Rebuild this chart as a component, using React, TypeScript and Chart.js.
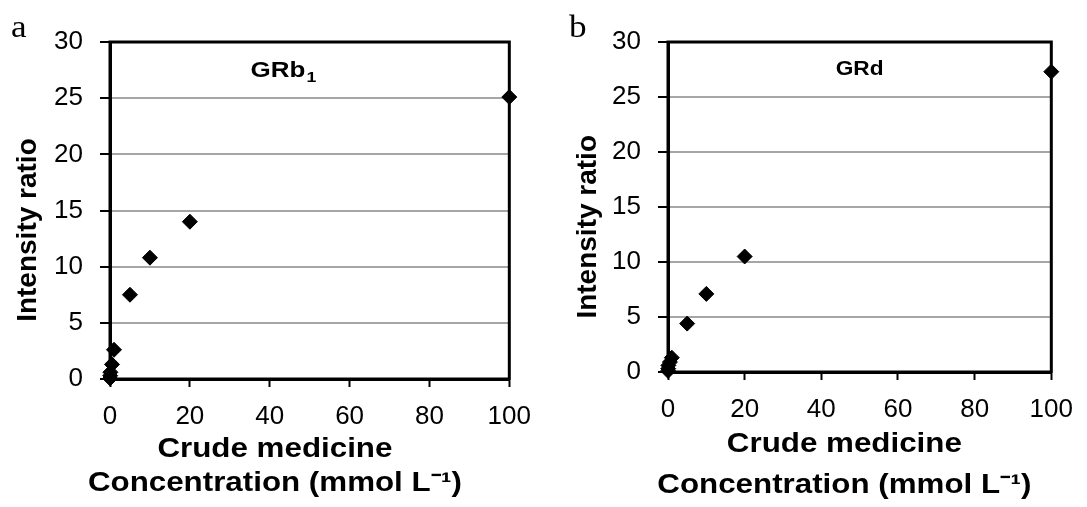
import React, { useEffect, useRef } from 'react';
import { Chart, registerables } from 'chart.js';

Chart.register(...registerables);

// ---- data ----
const yTickStep = 5;
const yMin = 0;
const yMax = 30;
const xTickStep = 20;
const xMin = 0;
const xMax = 100;

const concA = [0.01, 0.05, 0.1, 0.5, 1, 5, 10, 20, 100];
const ratioA = [0.05, 0.3, 0.6, 1.3, 2.6, 7.5, 10.8, 14.0, 25.1];

const concB = [0.01, 0.05, 0.1, 0.5, 1, 5, 10, 20, 100];
const ratioB = [0.1, 0.3, 0.6, 0.9, 1.3, 4.4, 7.1, 10.5, 27.3];

const yTitle = 'Intensity ratio';
const xTitle = ['Crude medicine', 'Concentration (mmol L⁻¹)'];
const titleA = { main: 'GRb', sub: '1' };
const titleB = { main: 'GRd', sub: '' };

const FONT = "'Liberation Sans', Arial, sans-serif";

type TextLayout = {
  xTitleFx: number; // horizontal centre of x title as fraction of plot width
  xTitleBaselines: number[];
  yTitleX: number;
  yTitleFy: number;
  titleFx: number;
  titleBaseline: number;
  titleSize: number;
  titleSx: number;
};

type PanelProps = {
  left: number;
  width: number;
  height: number;
  xs: number[];
  ys: number[];
  axisWidth: number;
  xAxisHeight: number;
  padTop: number;
  padRight: number;
  title: { main: string; sub: string };
  t: TextLayout;
};

function Panel(props: PanelProps) {
  const ref = useRef<HTMLCanvasElement | null>(null);
  useEffect(() => {
    const canvas = ref.current;
    if (!canvas) return;
    const t = props.t;

    const framePlugin = {
      id: 'frame',
      beforeDatasetsDraw(chart: any) {
        const { ctx, chartArea } = chart;
        ctx.save();
        ctx.strokeStyle = '#000';
        ctx.lineWidth = 3;
        ctx.strokeRect(chartArea.left, chartArea.top, chartArea.right - chartArea.left, chartArea.bottom - chartArea.top);
        ctx.restore();
      },
      afterDraw(chart: any) {
        const { ctx, chartArea } = chart;
        const pw = chartArea.right - chartArea.left;
        const ph = chartArea.bottom - chartArea.top;
        ctx.save();
        ctx.fillStyle = '#000';

        // x-axis title (two lines, slightly widened like the reference)
        ctx.font = `bold 27px ${FONT}`;
        ctx.textAlign = 'center';
        ctx.textBaseline = 'alphabetic';
        const cx = chartArea.left + t.xTitleFx * pw;
        xTitle.forEach((line, i) => {
          ctx.save();
          ctx.translate(cx, t.xTitleBaselines[i]);
          ctx.scale(1.16, 1);
          ctx.fillText(line, 0, 0);
          ctx.restore();
        });

        // y-axis title
        ctx.save();
        ctx.font = `bold 28px ${FONT}`;
        ctx.textAlign = 'center';
        ctx.textBaseline = 'middle';
        ctx.translate(t.yTitleX, chartArea.top + t.yTitleFy * ph);
        ctx.rotate(-Math.PI / 2);
        ctx.fillText(yTitle, 0, 0);
        ctx.restore();

        // panel title
        ctx.textAlign = 'left';
        ctx.textBaseline = 'alphabetic';
        const sx = t.titleSx;
        ctx.font = `bold ${t.titleSize}px ${FONT}`;
        const wMain = ctx.measureText(props.title.main).width * sx;
        ctx.font = `bold 15px ${FONT}`;
        const wSub = props.title.sub ? ctx.measureText(props.title.sub).width * sx : 0;
        const tcx = chartArea.left + t.titleFx * pw;
        const x0 = tcx - (wMain + wSub) / 2;
        ctx.save();
        ctx.translate(x0, t.titleBaseline);
        ctx.scale(sx, 1);
        ctx.font = `bold ${t.titleSize}px ${FONT}`;
        ctx.fillText(props.title.main, 0, 0);
        ctx.restore();
        if (props.title.sub) {
          ctx.save();
          ctx.translate(x0 + wMain + 1, t.titleBaseline + 5);
          ctx.scale(sx, 1);
          ctx.font = `bold 15px ${FONT}`;
          ctx.fillText(props.title.sub, 0, 0);
          ctx.restore();
        }
        ctx.restore();
      },
    };

    const chart = new Chart(canvas, {
      type: 'scatter',
      data: {
        datasets: [
          {
            data: props.xs.map((x, i) => ({ x, y: props.ys[i] })),
            pointStyle: 'rectRot',
            pointRadius: 7.5,
            pointHoverRadius: 7.5,
            backgroundColor: '#000',
            borderColor: '#000',
            borderWidth: 1,
            clip: false,
          } as any,
        ],
      },
      options: {
        animation: false,
        responsive: false,
        maintainAspectRatio: false,
        layout: { padding: { top: props.padTop, right: props.padRight, left: 0, bottom: 0 } },
        plugins: { legend: { display: false }, tooltip: { enabled: false }, title: { display: false } },
        scales: {
          x: {
            type: 'linear',
            min: xMin,
            max: xMax,
            afterFit: (s: any) => {
              s.height = props.xAxisHeight;
            },
            ticks: {
              stepSize: xTickStep,
              color: '#000',
              padding: 14,
              maxRotation: 0,
              font: { family: FONT, size: 26 },
            },
            grid: {
              drawOnChartArea: false,
              drawTicks: true,
              tickLength: 8,
              tickColor: '#000',
              tickWidth: 2,
            },
            border: { display: true, color: '#000', width: 3 },
            title: { display: false },
          },
          y: {
            type: 'linear',
            min: yMin,
            max: yMax,
            afterFit: (s: any) => {
              s.width = props.axisWidth;
            },
            ticks: {
              stepSize: yTickStep,
              color: '#000',
              padding: 17,
              font: { family: FONT, size: 26 },
            },
            grid: {
              color: '#a6a6a6',
              lineWidth: 2,
              drawTicks: true,
              tickLength: 10,
              tickColor: '#000',
              tickWidth: 2,
            },
            border: { display: true, color: '#000', width: 3 },
            title: { display: false },
          },
        },
      },
      plugins: [framePlugin],
    } as any);
    return () => chart.destroy();
  }, []);

  return (
    <div style={{ position: 'absolute', left: props.left, top: 0, width: props.width, height: props.height }}>
      <canvas ref={ref} width={props.width} height={props.height} style={{ display: 'block' }} />
    </div>
  );
}

const letterStyle: React.CSSProperties = {
  position: 'absolute',
  top: 10,
  fontFamily: "'Liberation Serif', serif",
  fontSize: 32,
  lineHeight: '32px',
  transform: 'scaleX(1.1)',
  transformOrigin: 'left top',
};

export default function App() {
  return (
    <div style={{ position: 'absolute', left: 0, top: 0, width: 1087, height: 507, background: '#fff', overflow: 'hidden' }}>
      <Panel
        left={0}
        width={545}
        height={507}
        xs={concA}
        ys={ratioA}
        axisWidth={110}
        xAxisHeight={128}
        padTop={42}
        padRight={33}
        title={titleA}
        t={{
          xTitleFx: 0.413,
          xTitleBaselines: [457, 491],
          yTitleX: 28,
          yTitleFy: 0.558,
          titleFx: 0.433,
          titleBaseline: 77,
          titleSize: 22,
          titleSx: 1.18,
        }}
      />
      <Panel
        left={558}
        width={529}
        height={507}
        xs={concB}
        ys={ratioB}
        axisWidth={110}
        xAxisHeight={135}
        padTop={42}
        padRight={27}
        title={titleB}
        t={{
          xTitleFx: 0.46,
          xTitleBaselines: [452, 493],
          yTitleX: 30,
          yTitleFy: 0.56,
          titleFx: 0.5,
          titleBaseline: 75,
          titleSize: 21,
          titleSx: 1.08,
        }}
      />
      <div style={{ ...letterStyle, left: 11 }}>a</div>
      <div style={{ ...letterStyle, left: 569 }}>b</div>
    </div>
  );
}
